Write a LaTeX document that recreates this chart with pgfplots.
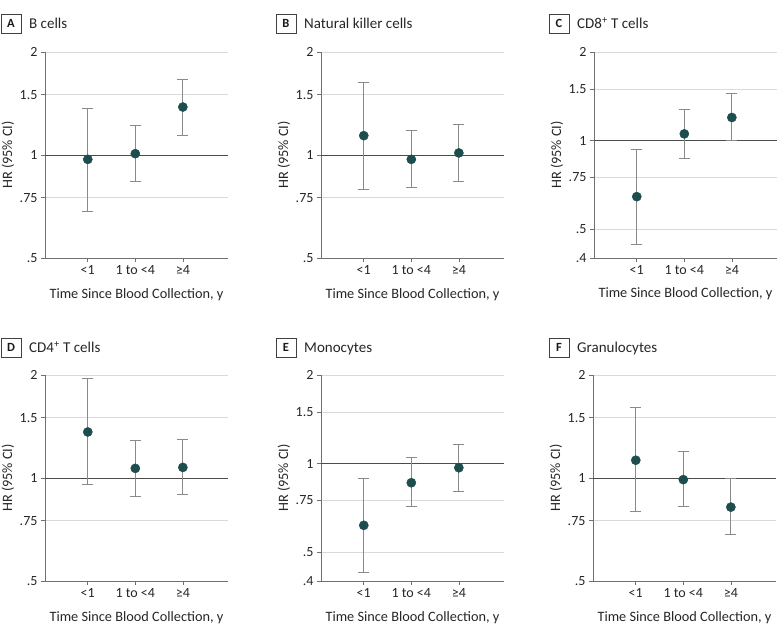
\documentclass[border=0pt]{standalone}
\usepackage{fontspec}
\setmainfont{Carlito}
\usepackage{pgfplots}
\usepackage{pgfplotstable}
\pgfplotsset{compat=1.18}

\definecolor{dot}{HTML}{1E4D4F}
\definecolor{ci}{HTML}{8A8A8A}
\definecolor{gridc}{HTML}{DADADA}
\definecolor{spine}{HTML}{707070}

% x  hr  lo  hi
\pgfplotstableread{
x hr lo hi
1 0.971 0.684 1.370
2 1.009 0.835 1.218
3 1.381 1.142 1.664
}\tA
\pgfplotstableread{
x hr lo hi
1 1.139 0.796 1.627
2 0.971 0.804 1.183
3 1.014 0.839 1.229
}\tB
\pgfplotstableread{
x hr lo hi
1 0.646 0.446 0.933
2 1.055 0.870 1.277
3 1.199 1.000 1.448
}\tC
\pgfplotstableread{
x hr lo hi
1 1.363 0.958 1.960
2 1.067 0.884 1.288
3 1.074 0.894 1.297
}\tD
\pgfplotstableread{
x hr lo hi
1 0.618 0.427 0.889
2 0.862 0.717 1.053
3 0.969 0.805 1.166
}\tE
\pgfplotstableread{
x hr lo hi
1 1.127 0.797 1.608
2 0.989 0.824 1.200
3 0.822 0.685 0.998
}\tF

\pgfplotsset{
  every axis/.append style={
    scale only axis, width=183pt, height=206pt,
    anchor=north west,
    xmin=0.1, xmax=3.95,
    xtick={1,2,3}, xticklabels={<1,1 to <4,≥4},
    axis x line*=bottom, axis y line*=left,
    axis line style={draw=spine, line width=0.6pt, -},
    tick style={draw=spine, line width=0.6pt},
    tick align=outside, major tick length=4pt,
    ymajorgrids, major grid style={draw=gridc, line width=0.6pt},
    ticklabel style={font=\fontsize{14}{16}\selectfont, text=black!85},
    label style={font=\fontsize{14.3}{17}\selectfont, text=black!85},
    ylabel={HR (95\% CI)},
    ylabel style={at={(axis description cs:0,0.5)}, anchor=center, yshift=37pt},
    xlabel={Time Since Blood Collection, y},
    xlabel style={at={(axis description cs:0.5,0)}, anchor=base, yshift=-40pt},
    clip=false,
  },
}

\newcommand{\hrplot}[1]{%
  \addplot[black!70, line width=0.8pt, no marks] coordinates {(0.1,1) (3.95,1)};
  \addplot[only marks, mark=*, mark size=4.6pt,
    mark options={fill=dot, draw=dot},
    error bars/.cd, y dir=both, y explicit,
    error bar style={draw=ci, line width=0.8pt},
    error mark options={rotate=90, mark size=5.5pt, draw=ci, line width=0.8pt}]
    table[x=x, y=hr,
    y error plus expr=\thisrow{hi}-\thisrow{hr},
    y error minus expr=\thisrow{hr}-\thisrow{lo}] {#1};}

\newcommand{\paneltag}[4]{%
  \draw[draw=black!75, line width=0.6pt] (#1pt,#2pt) rectangle ++(20pt,-19pt);
  \node[font=\fontsize{12.5}{14}\selectfont\bfseries, text=black!90] at (#1pt+10pt,#2pt-9.5pt) {#3};
  \node[anchor=base west, inner sep=0pt, font=\fontsize{15}{18}\selectfont, text=black!85] at (#1pt+28pt,#2pt-14.5pt) {#4};}

\begin{document}
\begin{tikzpicture}
\useasboundingbox (0,0) rectangle (780pt,-634pt);

\begin{axis}[ymode=log, at={(45pt,-52pt)}, ymin=0.5, ymax=2,
  ytick={0.5,0.75,1,1.5,2}, yticklabels={.5,.75,1,1.5,2}]
\hrplot{\tA}
\end{axis}
\begin{axis}[ymode=log, at={(321pt,-52pt)}, ymin=0.5, ymax=2,
  ytick={0.5,0.75,1,1.5,2}, yticklabels={.5,.75,1,1.5,2}]
\hrplot{\tB}
\end{axis}
\begin{axis}[ymode=log, at={(594pt,-52pt)}, ymin=0.4, ymax=2,
  ytick={0.4,0.5,0.75,1,1.5,2}, yticklabels={.4,.5,.75,1,1.5,2}]
\hrplot{\tC}
\end{axis}
\begin{axis}[ymode=log, at={(45pt,-375pt)}, ymin=0.5, ymax=2,
  ytick={0.5,0.75,1,1.5,2}, yticklabels={.5,.75,1,1.5,2}]
\hrplot{\tD}
\end{axis}
\begin{axis}[ymode=log, at={(321pt,-375pt)}, ymin=0.4, ymax=2,
  ytick={0.4,0.5,0.75,1,1.5,2}, yticklabels={.4,.5,.75,1,1.5,2}]
\hrplot{\tE}
\end{axis}
\begin{axis}[ymode=log, at={(593pt,-375pt)}, ymin=0.5, ymax=2,
  ytick={0.5,0.75,1,1.5,2}, yticklabels={.5,.75,1,1.5,2}]
\hrplot{\tF}
\end{axis}

\paneltag{1}{-14}{A}{B cells}
\paneltag{276}{-14}{B}{Natural killer cells}
\paneltag{549}{-14}{C}{CD8\textsuperscript{+} T cells}
\paneltag{1}{-338}{D}{CD4\textsuperscript{+} T cells}
\paneltag{276}{-338}{E}{Monocytes}
\paneltag{549}{-338}{F}{Granulocytes}
\end{tikzpicture}
\end{document}
